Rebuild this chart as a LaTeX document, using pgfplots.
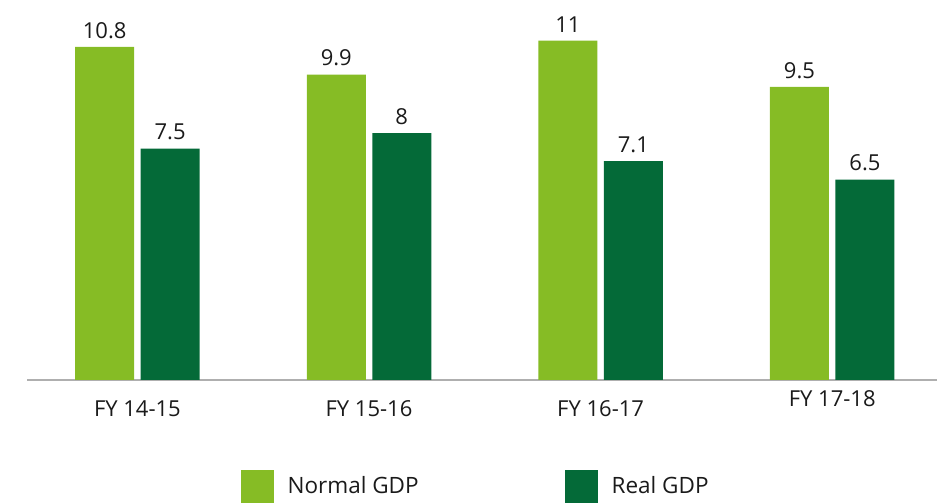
\documentclass[border=0pt]{standalone}
\usepackage{fontspec}
\setmainfont{Open Sans}
\usepackage{pgfplots}
\pgfplotsset{compat=1.18}
\definecolor{lightg}{HTML}{86BC25}
\definecolor{darkg}{HTML}{046A38}
\definecolor{axisgray}{HTML}{AFAFAF}
\definecolor{txt}{HTML}{1A1A1A}
\begin{document}
\begin{tikzpicture}
\path[use as bounding box] (0,0) rectangle (937bp,503bp);
\begin{axis}[
  at={(27bp,123bp)}, anchor=south west,
  scale only axis, width=910bp, height=380bp,
  xmin=-0.4767, xmax=3.4525, ymin=0, ymax=12.32,
  axis x line=bottom, axis y line=none,
  x axis line style={-, axisgray, line width=1.4bp},
  xtick={0,1,2,3},
  xticklabels={FY 14-15,FY 15-16,FY 16-17,\raisebox{10bp}{FY 17-18}},
  major tick length=0pt,
  xticklabel style={font=\fontsize{22bp}{26bp}\selectfont, text=txt, anchor=base, yshift=-37bp},
  ytick=\empty,
  clip=false,
  ybar,
  bar width=59bp,
  nodes near coords,
  nodes near coords style={font=\fontsize{22bp}{26bp}\selectfont, text=txt, yshift=5bp},
  /pgf/number format/assume math mode=true,
  legend style={at={(0.493,-0.279)}, anchor=center, draw=none, fill=none,
    legend columns=2, font=\fontsize{22.5bp}{26bp}\selectfont, text=txt,
    /tikz/every even column/.append style={column sep=144bp}},
  legend image code/.code={\fill[#1] (0bp,-16.5bp) rectangle (33bp,16.5bp);},
  legend cell align=left,
]
\addplot[bar shift=-32.75bp, fill=lightg, draw=none] coordinates {(0,10.8) (1,9.9) (2,11) (3,9.5)};
\addplot[bar shift=32.75bp, fill=darkg, draw=none] coordinates {(0,7.5) (1,8) (2,7.1) (3,6.5)};
\legend{\hspace{12bp}Normal GDP, \hspace{12bp}Real GDP}
\end{axis}
\end{tikzpicture}
\end{document}
